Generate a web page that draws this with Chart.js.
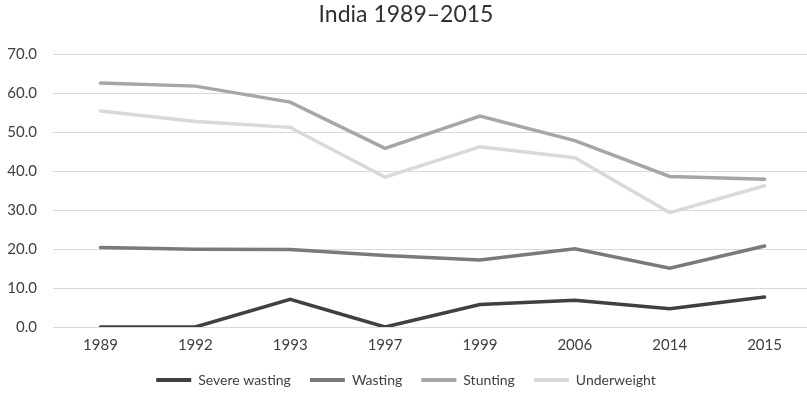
<!DOCTYPE html>
<html>
<head>
<meta charset="utf-8">
<script src="https://cdn.jsdelivr.net/npm/chart.js@4"></script>
<style>
  html, body { margin: 0; padding: 0; background: #fff; overflow: hidden; }
  #wrap { width: 812px; height: 397px; position: relative; }
</style>
</head>
<body>
<div id="wrap"><canvas id="c"></canvas></div>
<script>
// Survey years
const years = ['1989', '1992', '1993', '1997', '1999', '2006', '2014', '2015'];

// Prevalence (%) by indicator
const severeWasting = [0, 0, 7.1, 0, 5.8, 6.9, 4.7, 7.7];
const wasting       = [20.4, 20.0, 19.9, 18.4, 17.2, 20.1, 15.1, 20.8];
const stunting      = [62.7, 61.9, 57.8, 45.9, 54.2, 47.9, 38.7, 38.0];
const underweight   = [55.5, 52.8, 51.3, 38.5, 46.3, 43.5, 29.4, 36.3];

const seriesNames = ['Severe wasting', 'Wasting', 'Stunting', 'Underweight'];
const seriesColors = ['#404040', '#7a7a7c', '#a6a6a8', '#d9d9d9'];
const seriesValues = [severeWasting, wasting, stunting, underweight];

const FONT = "Lato, 'Open Sans', sans-serif";
const TEXT = '#404040';

new Chart(document.getElementById('c'), {
  type: 'line',
  data: {
    labels: years,
    datasets: seriesNames.map((name, i) => ({
      label: name,
      data: seriesValues[i],
      borderColor: seriesColors[i],
      backgroundColor: seriesColors[i],
      borderWidth: 3.5,
      borderCapStyle: 'round',
      pointRadius: 0,
      tension: 0,
      fill: false
    }))
  },
  options: {
    responsive: true,
    maintainAspectRatio: false,
    animation: false,
    layout: { padding: { left: 0, right: 0, top: 1, bottom: 0 } },
    plugins: {
      title: {
        display: true,
        text: 'India 1989–2015',
        color: '#303030',
        font: { family: FONT, size: 23, weight: 'normal' },
        padding: { top: 0, bottom: 26 }
      },
      legend: {
        position: 'bottom',
        labels: {
          color: TEXT,
          font: { family: FONT, size: 14 },
          boxWidth: 35,
          boxHeight: 4,
          padding: 19,
          generateLabels: (chart) => chart.data.datasets.map((ds, i) => ({
            text: ds.label,
            fillStyle: ds.borderColor,
            strokeStyle: ds.borderColor,
            lineWidth: 0,
            fontColor: TEXT,
            datasetIndex: i
          }))
        }
      },
      tooltip: { enabled: false }
    },
    scales: {
      x: {
        offset: true,
        grid: { display: false, drawTicks: false },
        border: { display: false },
        ticks: { color: TEXT, font: { family: FONT, size: 15 }, padding: 9 },
        afterFit: (s) => { s.height = 27; }
      },
      y: {
        min: 0,
        max: 70,
        ticks: {
          stepSize: 10,
          color: TEXT,
          font: { family: FONT, size: 15 },
          padding: 16,
          callback: (v) => Number(v).toFixed(1)
        },
        grid: { color: '#d9d9d9', lineWidth: 1, drawTicks: false },
        border: { display: false },
        afterFit: (s) => { s.width = 53; }
      }
    }
  }
});
</script>
</body>
</html>
